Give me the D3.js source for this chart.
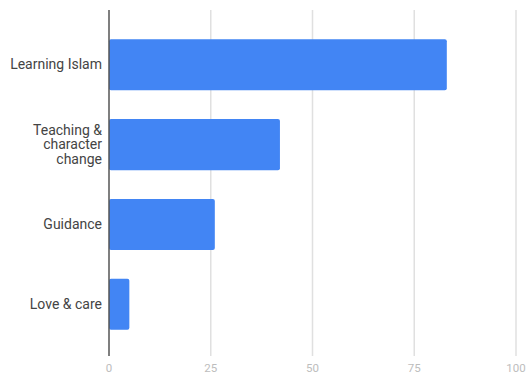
<!DOCTYPE html>
<html><head><meta charset="utf-8">
<script src="https://cdn.jsdelivr.net/npm/d3@7"></script>
<style>body{margin:0;background:#fff}svg{display:block}</style>
</head><body><svg id="c" width="530" height="377"></svg>
<script>
const categories = [["Learning Islam"], ["Teaching &", "character", "change"], ["Guidance"], ["Love & care"]];
const values = [83, 42, 26, 5];
const ticks = [0, 25, 50, 75, 100];

const svg = d3.select("#c");
const x = d3.scaleLinear().domain([0, 100]).range([109, 516]);
const y = d3.scaleBand().domain(d3.range(categories.length)).range([12, 357]).paddingInner(0.36).paddingOuter(0.34);
const gTop = 10, gBot = 356;

svg.append("g").selectAll("line").data(ticks.filter(t => t > 0)).join("line")
  .attr("x1", d => x(d)).attr("x2", d => x(d)).attr("y1", gTop).attr("y2", gBot)
  .attr("stroke", "#e0e0e0").attr("stroke-width", 1.5);

svg.append("g").selectAll("text").data(ticks).join("text")
  .attr("x", d => x(d)).attr("y", 372).attr("text-anchor", "middle")
  .attr("font-family", "Roboto, sans-serif").attr("font-size", 11.5).attr("fill", "#bdbdbd")
  .text(d => d);

svg.append("g").selectAll("rect").data(values).join("rect")
  .attr("x", x(0)).attr("y", (d, i) => y(i)).attr("height", y.bandwidth())
  .attr("width", d => x(d) - x(0)).attr("rx", 2).attr("fill", "#4285f4");

svg.append("line").attr("x1", x(0)).attr("x2", x(0)).attr("y1", gTop).attr("y2", gBot)
  .attr("stroke", "#555").attr("stroke-width", 1.5);

const lh = 14.5;
svg.append("g").selectAll("text").data(categories).join("text")
  .attr("text-anchor", "end").attr("font-family", "Roboto, sans-serif").attr("font-size", 14).attr("fill", "#444")
  .each(function(lines, i) {
    const cy = y(i) + y.bandwidth() / 2;
    const t0 = cy - (lines.length - 1) * lh / 2 + 4.5;
    d3.select(this).selectAll("tspan").data(lines).join("tspan")
      .attr("x", 102).attr("y", (d, j) => t0 + j * lh).text(d => d);
  });
</script></body></html>
